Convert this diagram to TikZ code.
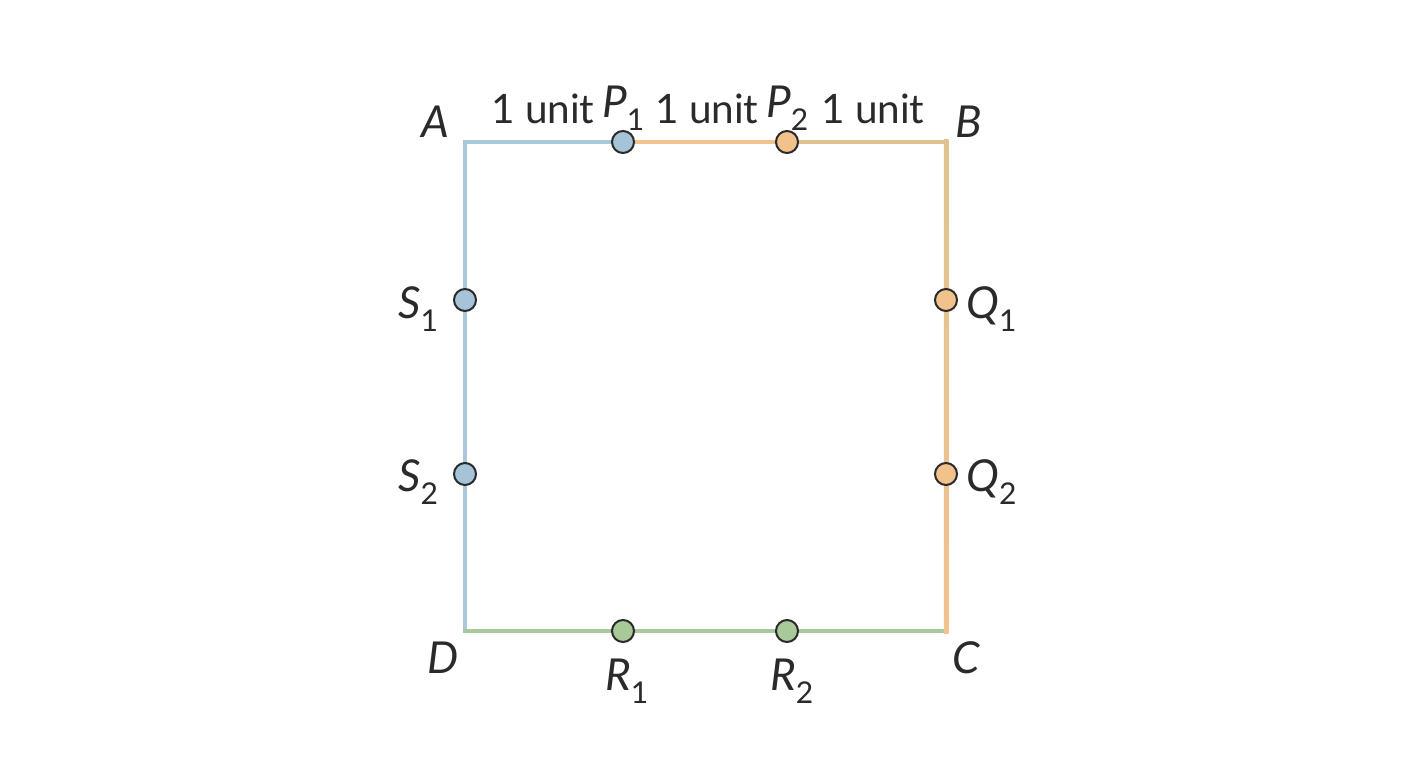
\documentclass[tikz,border=0pt]{standalone}
\usepackage{fontspec}
\setmainfont{Lato}
\definecolor{blueL}{HTML}{A9C8DC}
\definecolor{blueP}{HTML}{A7C3D8}
\definecolor{orangeL}{HTML}{F2C290}
\definecolor{orangeP}{HTML}{F2C28C}
\definecolor{tanL}{HTML}{DEC391}
\definecolor{greenL}{HTML}{A9C89C}
\definecolor{greenP}{HTML}{A8C998}
\definecolor{ink}{HTML}{2A2A2A}
\newcommand{\sub}[1]{\raisebox{-0.3em}{\upshape\fontsize{30}{34}\selectfont #1}}
\tikzset{
  side/.style={line width=4.5pt, line cap=rect},
  pt/.style={circle, draw=ink, line width=2pt, minimum size=22pt, inner sep=0pt},
  lab/.style={anchor=base west, inner sep=0pt, text=ink, font=\fontsize{44}{50}\selectfont},
  unitlab/.style={anchor=base west, inner sep=0pt, text=ink, font=\fontsize{40.5}{46}\selectfont},
}
\begin{document}
\begin{tikzpicture}[x=1pt,y=-1pt]
\useasboundingbox (0,0) rectangle (1408,768);
\fill[white] (0,0) rectangle (1408,768);
\coordinate (A) at (465,142);
\coordinate (B) at (946,142);
\coordinate (C) at (946,631);
\coordinate (D) at (465,631);
\coordinate (cP1) at (623,142);
\coordinate (cP2) at (787,142);
\coordinate (cS1) at (465,300);
\coordinate (cS2) at (465,474);
\coordinate (cQ1) at (946,300);
\coordinate (cQ2) at (946,474);
\coordinate (cR1) at (623,631);
\coordinate (cR2) at (787,631);
% sides
\draw[side, blueL] (A) -- (D);
\draw[side, greenL] (D) -- (C);
\shade[top color=tanL, bottom color=orangeL] (943.75,139.75) rectangle (948.25,633.25);
\draw[side, blueL] (A) -- (cP1);
\draw[side, orangeL] (cP1) -- (cP2);
\draw[side, tanL] (cP2) -- (B);
% points
\node[pt, fill=blueP] (P1) at (cP1) {};
\node[pt, fill=orangeP] (P2) at (cP2) {};
\node[pt, fill=blueP] (S1) at (cS1) {};
\node[pt, fill=blueP] (S2) at (cS2) {};
\node[pt, fill=orangeP] (Q1) at (cQ1) {};
\node[pt, fill=orangeP] (Q2) at (cQ2) {};
\node[pt, fill=greenP] (R1) at (cR1) {};
\node[pt, fill=greenP] (R2) at (cR2) {};
% labels
\node[lab] (lA) at (421,137) {\itshape A};
\node[lab] (lB) at (955,137) {\itshape B};
\node[lab] (lC) at (952,673) {\itshape C};
\node[lab] (lD) at (427,673) {\itshape D};
\node[lab] (lP1) at (602,117) {\itshape P\sub{1}};
\node[lab] (lP2) at (766,117) {\itshape P\sub{2}};
\node[lab] (lS1) at (398,318) {\itshape S\sub{1}};
\node[lab] (lS2) at (398,491) {\itshape S\sub{2}};
\node[lab] (lQ1) at (966,318) {\itshape Q\sub{1}};
\node[lab] (lQ2) at (966,491) {\itshape Q\sub{2}};
\node[lab] (lR1) at (605,690) {\itshape R\sub{1}};
\node[lab] (lR2) at (770,690) {\itshape R\sub{2}};
\node[unitlab] (u1) at (491,123) {1 unit};
\node[unitlab] (u2) at (655,123) {1 unit};
\node[unitlab] (u3) at (821,123) {1 unit};
\end{tikzpicture}
\end{document}
